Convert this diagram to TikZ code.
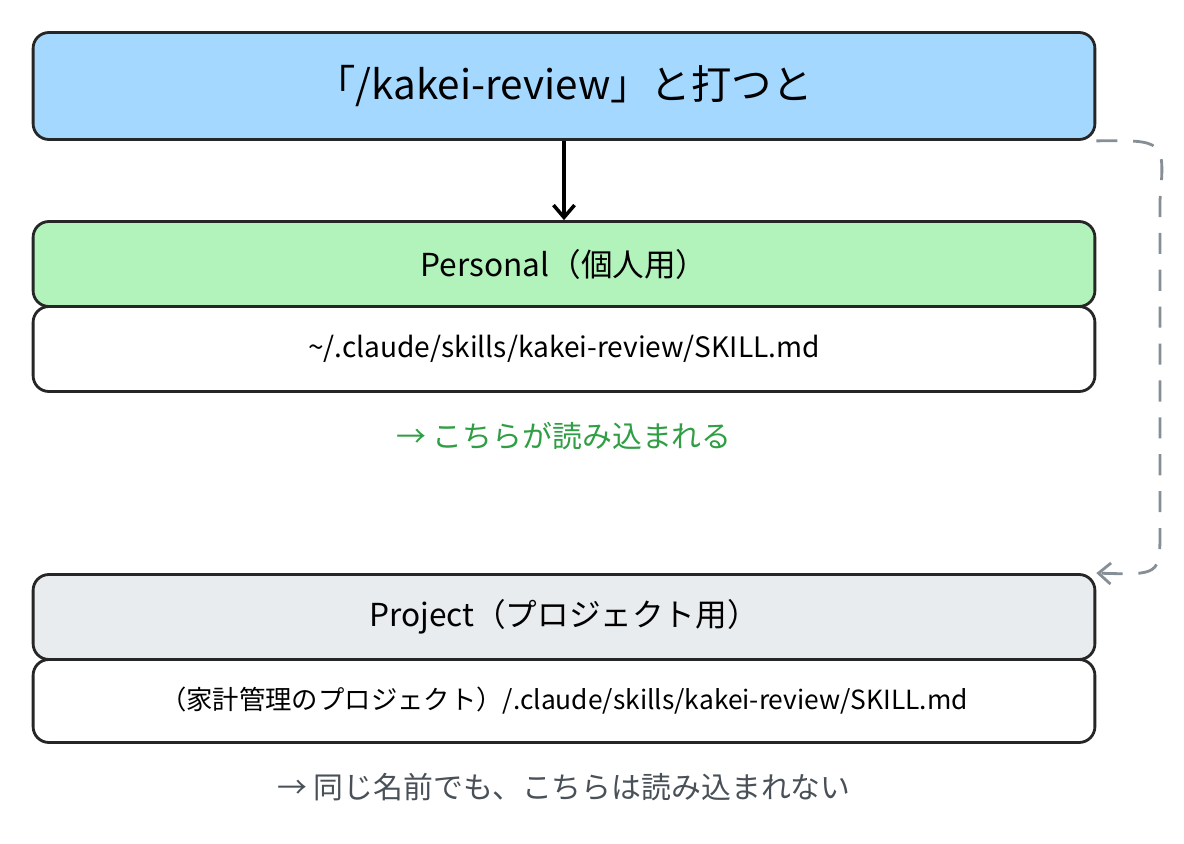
\documentclass[tikz,border=0pt]{standalone}
\usepackage{fontspec}
\setmainfont{Noto Sans CJK JP}
\usetikzlibrary{arrows.meta}
\definecolor{cblue}{HTML}{A5D8FF}
\definecolor{cgreen}{HTML}{B2F2BB}
\definecolor{cgrey}{HTML}{E9ECEF}
\definecolor{tgreen}{HTML}{2F9E44}
\definecolor{tgrey}{HTML}{495057}
\definecolor{lgrey}{HTML}{868E96}
\begin{document}
\begin{tikzpicture}[x=0.02cm, y=-0.02cm,
    box/.style={draw=black!85, line width=1.6pt, fill=#1, rounded corners=9pt, minimum width=21.24cm, inner sep=0pt, align=center},
    note/.style={font=\fontsize{17}{20}\selectfont, text=#1},
    arrow/.style={-{Straight Barb[length=7pt,width=12pt]}, line width=1.6pt}
]
    \useasboundingbox (0,0) rectangle (1184,844);
    \node[box=cblue, minimum height=2.14cm, font=\fontsize{23}{27}\selectfont] (cmd) at (564,86) {「/kakei-review」と打つと};
    \node[box=cgreen, minimum height=1.7cm, font=\fontsize{18}{21}\selectfont] (personal) at (564,264) {Personal（個人用）};
    \node[box=white, minimum height=1.7cm, font=\fontsize{16}{19}\selectfont] (ppath) at (564,349) {\textasciitilde/.claude/skills/kakei-review/SKILL.md};
    \node[note=tgreen] (pnote) at (564,436) {→\ こちらが読み込まれる};
    \node[box=cgrey, minimum height=1.7cm, font=\fontsize{18}{21}\selectfont] (project) at (564,617) {Project（プロジェクト用）};
    \node[box=white, minimum height=1.66cm, font=\fontsize{15}{18}\selectfont] (jpath) at (564,701) {（家計管理のプロジェクト）/.claude/skills/kakei-review/SKILL.md};
    \node[note=tgrey] (jnote) at (564,787) {→\ 同じ名前でも、こちらは読み込まれない};

    \draw[arrow, line width=2pt] (cmd) -- (personal);
    \draw[arrow, draw=lgrey, dash pattern=on 12pt off 9pt] (cmd.south east) .. controls (1165,140) .. (1160,200)
        -- (1160,530) .. controls (1160,575) .. (project.north east);
\end{tikzpicture}
\end{document}
